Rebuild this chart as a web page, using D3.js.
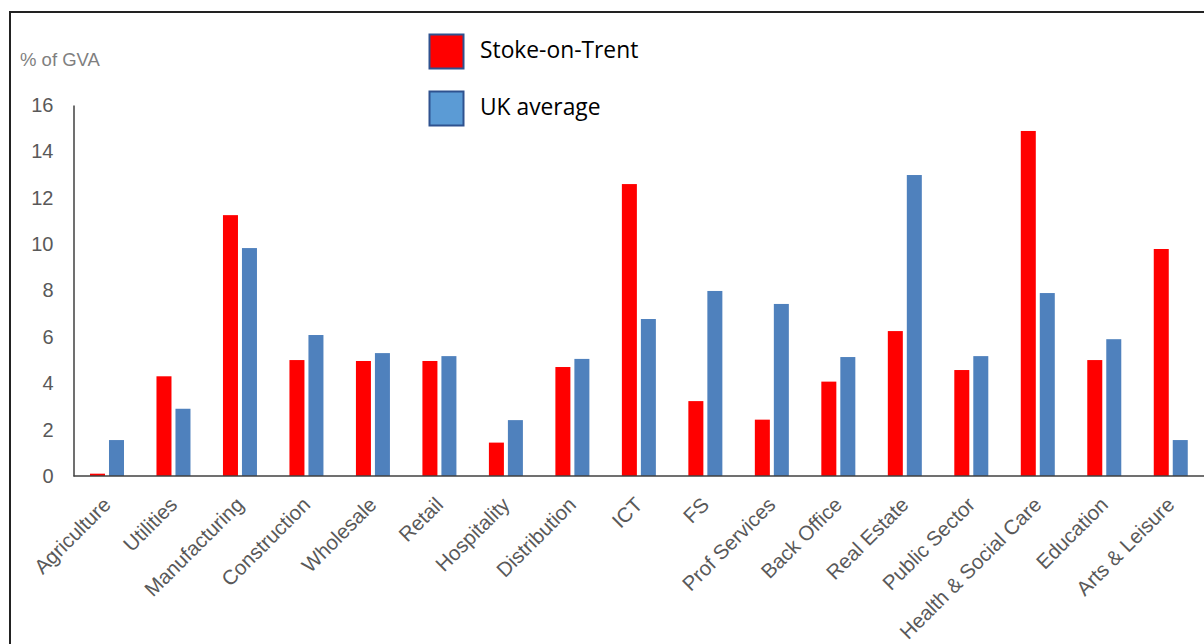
<!DOCTYPE html>
<html><head><meta charset="utf-8">
<script src="https://cdn.jsdelivr.net/npm/d3@7"></script>
<style>html,body{margin:0;padding:0;background:#fff;}</style>
</head><body>
<svg id="c" width="1204" height="644"></svg>
<script>
const categories = ["Agriculture","Utilities","Manufacturing","Construction","Wholesale","Retail","Hospitality","Distribution","ICT","FS","Prof Services","Back Office","Real Estate","Public Sector","Health & Social Care","Education","Arts & Leisure"];
const stoke = [0.1,4.3,11.25,5.0,4.96,4.96,1.44,4.7,12.59,3.23,2.43,4.07,6.25,4.57,14.88,5.0,9.79];
const uk = [1.55,2.9,9.83,6.08,5.3,5.17,2.41,5.05,6.77,7.98,7.42,5.13,12.98,5.17,7.89,5.9,1.55];
const seriesNames = ["Stoke-on-Trent","UK average"];
const yTicks = [0,2,4,6,8,10,12,14,16];

const svg = d3.select("#c");
// outer frame
svg.append("path").attr("d","M10,644 V12 H1204").attr("fill","none").attr("stroke","#222").attr("stroke-width",2);

const x0 = d3.scaleBand().domain(categories).range([73.75,1204]).paddingInner(0).paddingOuter(0);
const x1 = d3.scaleBand().domain(seriesNames).range([0,x0.bandwidth()]).paddingInner(0.21).paddingOuter(0.855);
const y = d3.scaleLinear().domain([0,16]).range([476,105]);
const colors = {"Stoke-on-Trent":"#ff0000","UK average":"#4f81bd"};

const g = svg.append("g");
categories.forEach((c,i)=>{
  const vals = [stoke[i], uk[i]];
  seriesNames.forEach((s,j)=>{
    g.append("rect")
      .attr("x", x0(c)+x1(s))
      .attr("y", y(vals[j]))
      .attr("width", x1.bandwidth())
      .attr("height", y(0)-y(vals[j]))
      .attr("fill", colors[s]);
  });
});

// y axis
const yAxis = d3.axisLeft(y).tickValues(yTicks).tickSize(0).tickPadding(20);
const ya = svg.append("g").attr("transform","translate(73.5,0)").call(yAxis);
ya.select(".domain").attr("stroke","#404040").attr("stroke-width",1.5);
ya.selectAll("text").attr("font-family","Liberation Sans, Arial, sans-serif").attr("font-size",20).attr("fill","#595959");

// x axis
const xAxis = d3.axisBottom(x0).tickSize(0).tickPadding(0);
const xa = svg.append("g").attr("transform","translate(0,476)").call(xAxis);
xa.select(".domain").attr("stroke","#404040").attr("stroke-width",1.5).attr("d","M73.5,0H1204");
xa.selectAll("text")
  .attr("font-family","Liberation Sans, Arial, sans-serif").attr("font-size",20.5).attr("fill","#595959")
  .attr("text-anchor","end").attr("dy",null).attr("y",0)
  .attr("transform","translate(5,30) rotate(-45)");

// y title
svg.append("text").attr("x",20).attr("y",66).text("% of GVA")
  .attr("font-family","Liberation Sans, Arial, sans-serif").attr("font-size",18.5).attr("fill","#7f7f7f");

// legend
const leg = svg.append("g");
seriesNames.forEach((s,j)=>{
  leg.append("rect").attr("x",429.5).attr("y",34.5+j*57).attr("width",34).attr("height",34)
    .attr("fill", s==="Stoke-on-Trent" ? "#ff0000" : "#5b9bd5").attr("stroke","#2f528f").attr("stroke-width",2);
  leg.append("text").attr("x",480).attr("y",58+j*57).text(s)
    .attr("font-family","'Open Sans', Lato, sans-serif").attr("font-size",22.8).attr("fill","#000");
});
</script>
</body></html>
